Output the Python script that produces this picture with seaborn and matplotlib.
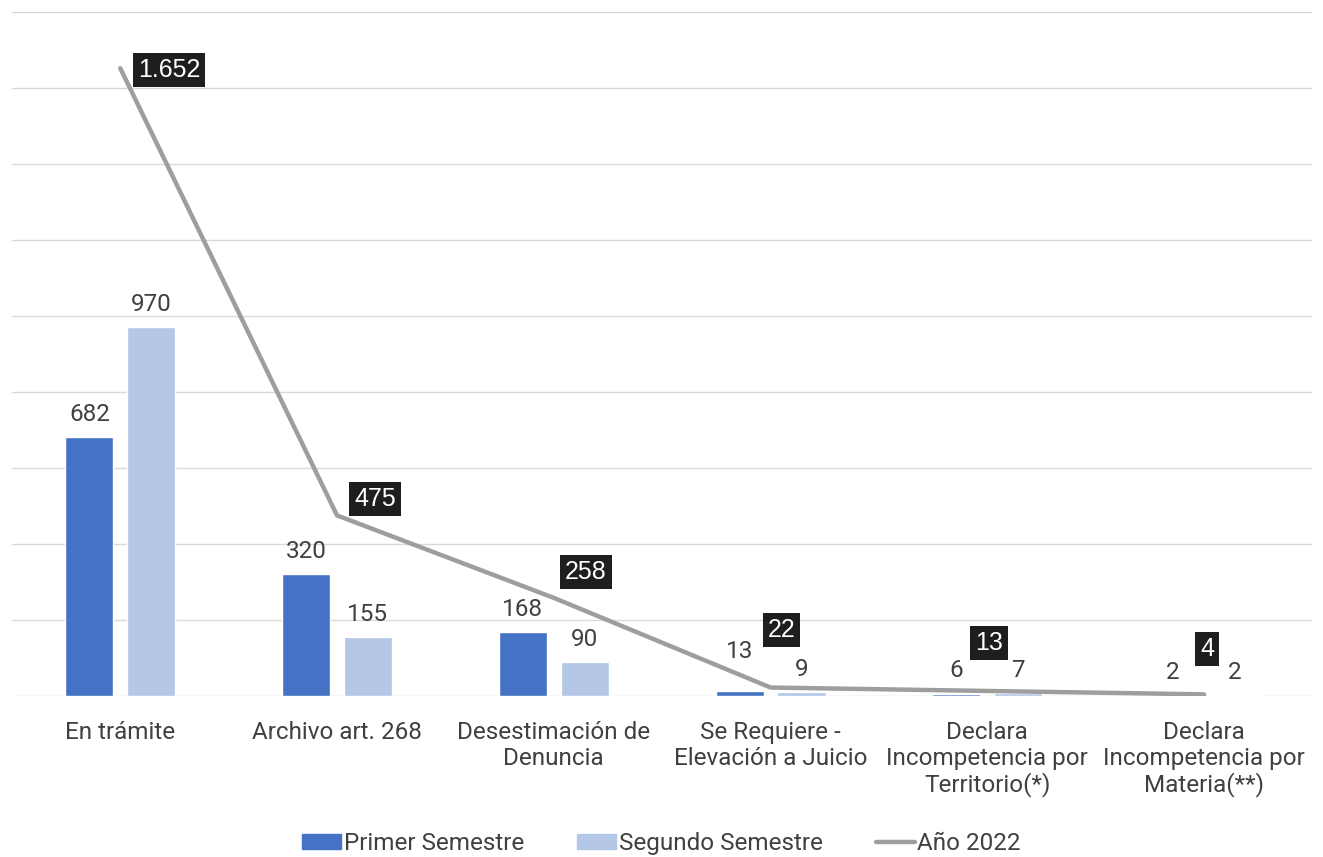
import pandas as pd
import numpy as np
from matplotlib import pyplot as plt
import seaborn as sns
from matplotlib.patches import Patch
from matplotlib.lines import Line2D

categorias = ['En trámite', 'Archivo art. 268', 'Desestimación de\nDenuncia',
              'Se Requiere -\nElevación a Juicio', 'Declara\nIncompetencia por\nTerritorio(*)',
              'Declara\nIncompetencia por\nMateria(**)']
primer_semestre = [682, 320, 168, 13, 6, 2]
segundo_semestre = [970, 155, 90, 9, 7, 2]
anio_2022 = [1652, 475, 258, 22, 13, 4]
etiquetas_anio = ['1.652', '475', '258', '22', '13', '4']

sns.set_style('white')
plt.rcParams['font.family'] = ['Roboto', 'DejaVu Sans']

df = pd.DataFrame({
    'categoria': categorias * 2,
    'valor': primer_semestre + segundo_semestre,
    'serie': ['Primer Semestre'] * 6 + ['Segundo Semestre'] * 6,
})

fig = plt.figure(figsize=(13.23, 8.57), dpi=100)
ax = fig.add_axes([0.009, 0.188, 0.983, 0.798])

sns.barplot(data=df, x='categoria', y='valor', hue='serie', ax=ax,
            palette=['#4472C4', '#B4C7E7'], saturation=1, width=0.57, gap=0.22,
            legend=False)

for cont in ax.containers:
    txts = ax.bar_label(cont, padding=8, fontsize=17.5, color='#404040')
    # el 13 de Excel queda un poco mas arriba
    if txts[3].get_text() == '13':
        txts[3].xyann = (txts[3].xyann[0], txts[3].xyann[1] + 12)

x = np.arange(len(categorias))
sns.lineplot(x=x, y=anio_2022, ax=ax, color='#9E9E9E', linewidth=3.2, zorder=5)

# offsets de las etiquetas negras (px)
offs = [(49, -2), (38, 16), (32, 26), (11, 58), (2, 48), (3, 45)]
for xi, yi, lab, (dx, dy) in zip(x, anio_2022, etiquetas_anio, offs):
    ax.annotate(lab, (xi, yi), xytext=(dx, dy), textcoords='offset pixels',
                ha='center', va='center', fontsize=18, color='white',
                family=['Liberation Sans', 'DejaVu Sans'], zorder=6,
                bbox=dict(boxstyle='square,pad=0.2', fc='#1E1E1E', ec='none'))

ax.set_ylim(0, 1800)
ax.set_xlim(-0.5, 5.5)
ax.set_yticks(range(0, 1801, 200))
ax.set_yticklabels([])
ax.tick_params(axis='y', length=0)
ax.tick_params(axis='x', length=0, labelsize=17.5, labelcolor='#404040', pad=18)
for t in ax.get_xticklabels():
    t.set_linespacing(1.15)
ax.grid(axis='y', color='#D9D9D9', linewidth=1)
ax.set_axisbelow(True)
ax.set_xlabel('')
ax.set_ylabel('')
sns.despine(ax=ax, left=True, bottom=True)

handles = [Patch(color='#4472C4'), Patch(color='#B4C7E7'),
           Line2D([], [], color='#9E9E9E', linewidth=3.2)]
fig.legend(handles, ['Primer Semestre', 'Segundo Semestre', 'Año 2022'],
           loc='center', bbox_to_anchor=(0.5, 0.016), ncol=3, frameon=False,
           fontsize=17.5, labelcolor='#404040', handlelength=1.6, handleheight=0.6,
           handletextpad=0.1, columnspacing=2.2)

fig.savefig('out.png', dpi=100)
